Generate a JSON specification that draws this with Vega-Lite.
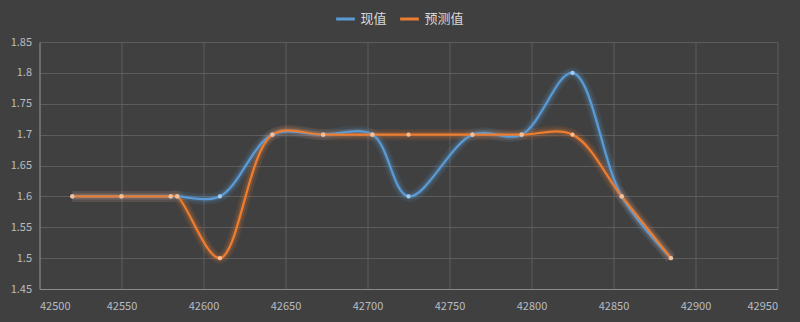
{
  "$schema": "https://vega.github.io/schema/vega-lite/v6.json",
  "width": 738,
  "height": 247,
  "autosize": "none",
  "padding": {"left": 39.5, "top": 42, "right": 22.5, "bottom": 33},
  "background": "#404040",
  "config": {
    "view": {"stroke": null},
    "font": "Noto Sans CJK SC",
    "axis": {
      "gridColor": "#5c5c5c",
      "gridWidth": 1,
      "domainColor": "#8a8a8a",
      "tickSize": 0,
      "labelColor": "#b8bcc2",
      "labelFontSize": 11,
      "labelFont": "Noto Sans CJK SC",
      "titleColor": "#bfbfbf"
    }
  },
  "data": {
    "values": [
      {"x": 42520, "series": "现值", "value": 1.6},
      {"x": 42550, "series": "现值", "value": 1.6},
      {"x": 42580, "series": "现值", "value": 1.6},
      {"x": 42584, "series": "现值", "value": 1.6},
      {"x": 42610, "series": "现值", "value": 1.6},
      {"x": 42642, "series": "现值", "value": 1.7},
      {"x": 42673, "series": "现值", "value": 1.7},
      {"x": 42703, "series": "现值", "value": 1.7},
      {"x": 42725, "series": "现值", "value": 1.6},
      {"x": 42764, "series": "现值", "value": 1.7},
      {"x": 42794, "series": "现值", "value": 1.7},
      {"x": 42825, "series": "现值", "value": 1.8},
      {"x": 42855, "series": "现值", "value": 1.6},
      {"x": 42885, "series": "现值", "value": 1.5},
      {"x": 42520, "series": "预测值", "value": 1.6},
      {"x": 42550, "series": "预测值", "value": 1.6},
      {"x": 42580, "series": "预测值", "value": 1.6},
      {"x": 42584, "series": "预测值", "value": 1.6},
      {"x": 42610, "series": "预测值", "value": 1.5},
      {"x": 42642, "series": "预测值", "value": 1.7},
      {"x": 42673, "series": "预测值", "value": 1.7},
      {"x": 42703, "series": "预测值", "value": 1.7},
      {"x": 42725, "series": "预测值", "value": 1.7},
      {"x": 42764, "series": "预测值", "value": 1.7},
      {"x": 42794, "series": "预测值", "value": 1.7},
      {"x": 42825, "series": "预测值", "value": 1.7},
      {"x": 42855, "series": "预测值", "value": 1.6},
      {"x": 42885, "series": "预测值", "value": 1.5}
    ]
  },
  "encoding": {
    "x": {
      "field": "x", "type": "quantitative",
      "scale": {"domain": [42500, 42950], "nice": false, "zero": false},
      "axis": {"values": [42500,42550,42600,42650,42700,42750,42800,42850,42900,42950], "format": "d", "title": null, "grid": true, "labelPadding": 11}
    },
    "y": {
      "field": "value", "type": "quantitative",
      "scale": {"domain": [1.45, 1.85], "nice": false, "zero": false},
      "axis": {"values": [1.45,1.5,1.55,1.6,1.65,1.7,1.75,1.8,1.85], "format": "~g", "title": null, "grid": true, "labelPadding": 8}
    }
  },
  "layer": [
    {
      "mark": {"type": "line", "interpolate": "catmull-rom", "strokeWidth": 11, "opacity": 0.12},
      "encoding": {
        "color": {"field": "series", "type": "nominal", "scale": {"domain": ["现值", "预测值"], "range": ["#5b9bd5", "#ed7d31"]}, "legend": null}
      }
    },
    {
      "mark": {"type": "line", "interpolate": "catmull-rom", "strokeWidth": 6, "opacity": 0.2},
      "encoding": {
        "color": {"field": "series", "type": "nominal", "scale": {"domain": ["现值", "预测值"], "range": ["#5b9bd5", "#ed7d31"]}, "legend": null}
      }
    },
    {
      "mark": {"type": "line", "interpolate": "catmull-rom", "strokeWidth": 2.25},
      "encoding": {
        "color": {
          "field": "series", "type": "nominal",
          "scale": {"domain": ["现值", "预测值"], "range": ["#5b9bd5", "#ed7d31"]},
          "legend": {
            "title": null, "orient": "none", "direction": "horizontal",
            "legendX": 295, "legendY": -34,
            "symbolType": "stroke", "symbolStrokeWidth": 3, "symbolSize": 350,
            "labelColor": "#d9d9d9", "labelFontSize": 13, "columnPadding": 6, "labelOffset": 4
          }
        }
      }
    },
    {
      "mark": {"type": "point", "filled": true, "size": 18, "opacity": 1},
      "encoding": {
        "color": {"field": "series", "type": "nominal", "scale": {"domain": ["现值", "预测值"], "range": ["#a9cbeb", "#f7bf98"]}, "legend": null}
      }
    }
  ],
  "resolve": {"scale": {"color": "independent"}}
}
